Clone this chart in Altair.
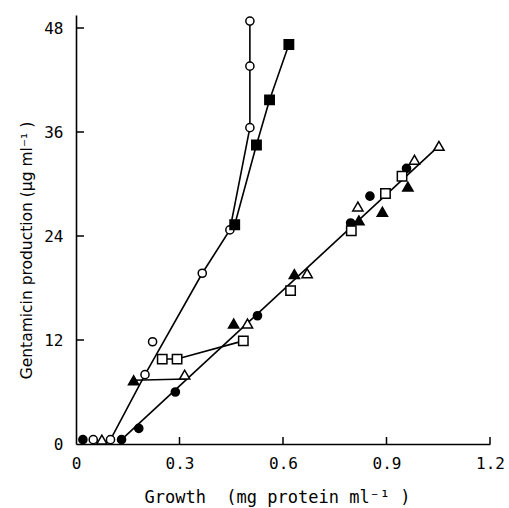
import altair as alt
import pandas as pd

# ---- data ----
open_circle_x = [0.05, 0.10, 0.20, 0.222, 0.366, 0.446, 0.504, 0.504, 0.504]
open_circle_y = [0.5, 0.5, 8.0, 11.8, 19.7, 24.7, 36.5, 43.6, 48.8]

filled_circle_x = [0.02, 0.132, 0.182, 0.288, 0.526, 0.796, 0.852, 0.958]
filled_circle_y = [0.5, 0.5, 1.8, 6.0, 14.8, 25.5, 28.6, 31.8]

filled_square_x = [0.46, 0.523, 0.561, 0.617]
filled_square_y = [25.3, 34.5, 39.7, 46.1]

open_square_x = [0.25, 0.293, 0.485, 0.622, 0.798, 0.897, 0.945]
open_square_y = [9.8, 9.8, 11.9, 17.7, 24.6, 28.9, 30.9]

open_tri_x = [0.075, 0.315, 0.497, 0.67, 0.817, 0.981, 1.052]
open_tri_y = [0.5, 8.0, 13.9, 19.7, 27.4, 32.8, 34.4]

filled_tri_x = [0.167, 0.457, 0.633, 0.82, 0.888, 0.962]
filled_tri_y = [7.35, 13.9, 19.6, 25.8, 26.8, 29.7]

# fitted / connecting lines
line_a_x = [0.10, 0.20, 0.366, 0.446, 0.504, 0.504, 0.504]
line_a_y = [0.5, 8.0, 19.7, 24.7, 36.5, 43.6, 48.8]
line_b_x = [0.46, 0.523, 0.561, 0.617]
line_b_y = [25.3, 34.5, 39.7, 46.1]
line_c_x = [0.132, 1.052]
line_c_y = [0.5, 34.4]
line_d_x = [0.167, 0.318]
line_d_y = [7.35, 7.5]
line_e_x = [0.25, 0.293, 0.485]
line_e_y = [9.8, 9.8, 11.9]

x_ticks = [0.3, 0.6, 0.9, 1.2]
y_ticks = [12, 24, 36, 48]

# ---- tables ----
rows = []
def add_pts(xs, ys, shape, fill, size):
    for a, b in zip(xs, ys):
        rows.append({"x": a, "y": b, "shape": shape, "fill": fill, "size": size})

add_pts(open_circle_x, open_circle_y, "circle", "white", 66)
add_pts(filled_circle_x, filled_circle_y, "circle", "black", 66)
add_pts(filled_square_x, filled_square_y, "square", "black", 88)
add_pts(open_square_x, open_square_y, "square", "white", 88)
add_pts(open_tri_x, open_tri_y, "triangle-up", "white", 105)
add_pts(filled_tri_x, filled_tri_y, "triangle-up", "black", 105)
pts = pd.DataFrame(rows)

lrows = []
for name, xs, ys in [("A", line_a_x, line_a_y), ("B", line_b_x, line_b_y),
                     ("C", line_c_x, line_c_y), ("D", line_d_x, line_d_y),
                     ("E", line_e_x, line_e_y)]:
    for i, (a, b) in enumerate(zip(xs, ys)):
        lrows.append({"x": a, "y": b, "line": name, "order": i})
lines = pd.DataFrame(lrows)

W, H = 414, 429
xscale = alt.Scale(domain=[0, 1.2], nice=False, zero=False)
yscale = alt.Scale(domain=[0, 49.5], nice=False, zero=False)

label_font = "DejaVu Sans Mono"

x_enc = alt.X("x:Q", scale=xscale, axis=alt.Axis(
    values=[0, 0.3, 0.6, 0.9, 1.2], format=".1~f", labelFlush=False,
    title="Growth \u00a0(mg protein ml⁻¹ )",
    titleFont="DejaVu Sans Mono", titleFontSize=17,
    titleX=201, titleY=53, titleBaseline="middle",
    labelPadding=11))
y_enc = alt.Y("y:Q", scale=yscale, axis=alt.Axis(
    values=[0, 12, 24, 36, 48], labelFlush=False,
    title="Gentamicin production (μg ml⁻¹ )",
    titleFont="DejaVu Sans", titleFontSize=15.5,
    titleX=-50, titleY=235, titleAngle=270, titleBaseline="middle",
    labelPadding=13))

line_layer = alt.Chart(lines).mark_line(color="black", strokeWidth=1.6).encode(
    x=x_enc, y=y_enc, detail="line:N", order="order:Q")

point_layer = alt.Chart(pts).mark_point(filled=True, stroke="black", strokeWidth=1.5, opacity=1).encode(
    x=alt.X("x:Q", scale=xscale),
    y=alt.Y("y:Q", scale=yscale),
    shape=alt.Shape("shape:N", scale=None),
    fill=alt.Fill("fill:N", scale=None),
    size=alt.Size("size:Q", scale=None),
)

xt = alt.Chart(pd.DataFrame({"x": x_ticks})).mark_rule(color="black", strokeWidth=1.5).encode(
    x=alt.X("x:Q", scale=xscale), y=alt.value(H), y2=alt.value(H - 7))
yt = alt.Chart(pd.DataFrame({"y": y_ticks})).mark_rule(color="black", strokeWidth=1.5).encode(
    y=alt.Y("y:Q", scale=yscale), x=alt.value(0), x2=alt.value(8))

chart = alt.layer(line_layer, xt, yt, point_layer).properties(
    width=W, height=H,
    autosize=alt.AutoSizeParams(type="none"),
    padding={"left": 76, "top": 15, "right": 19, "bottom": 64},
    background="white",
).configure_view(stroke=None).configure_axis(
    grid=False, ticks=False, domainColor="black", domainWidth=1.6,
    labelFont=label_font, labelFontSize=16, labelColor="black",
    titleFontWeight="normal", titleColor="black",
)

chart.save("out.html", embed_options={"renderer": "svg", "actions": False})
